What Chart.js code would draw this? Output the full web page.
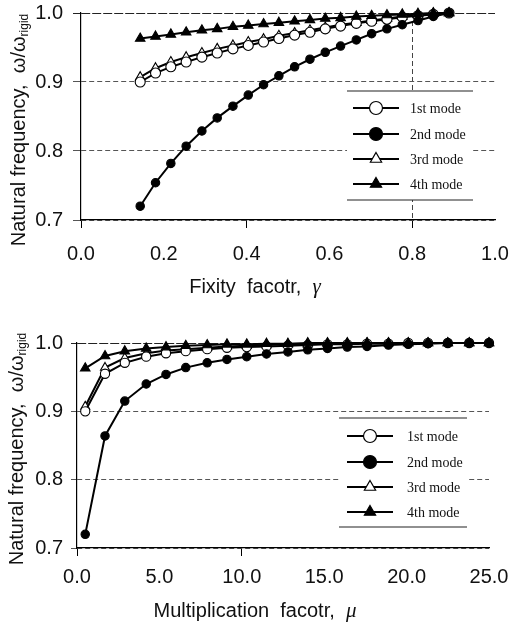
<!DOCTYPE html>
<html>
<head>
<meta charset="utf-8">
<script src="https://cdn.jsdelivr.net/npm/chart.js@4.4.1/dist/chart.umd.min.js"></script>
<style>
  html, body { margin: 0; padding: 0; background: #fff; }
  .box { position: absolute; left: 0; width: 510px; height: 315px; }
</style>
</head>
<body>
<div class="box" style="top:0"><canvas id="fixity" width="510" height="315"></canvas></div>
<div class="box" style="top:315px"><canvas id="multi" width="510" height="315"></canvas></div>
<script>
// ---- data ----
const modeLabels = ['1st mode', '2nd mode', '3rd mode', '4th mode'];

// top panel: fixity factor gamma
const gammaVals = [0.143, 0.180, 0.217, 0.254, 0.292, 0.329, 0.367, 0.404, 0.441, 0.478, 0.516,
                   0.553, 0.590, 0.627, 0.665, 0.702, 0.739, 0.776, 0.814, 0.851, 0.889];
const gMode1 = [0.900, 0.913, 0.922, 0.929, 0.936, 0.942, 0.948, 0.953, 0.958, 0.963, 0.968,
                0.972, 0.977, 0.981, 0.985, 0.988, 0.991, 0.994, 0.996, 0.998, 1.000];
const gMode2 = [0.720, 0.754, 0.782, 0.807, 0.829, 0.848, 0.865, 0.881, 0.896, 0.909, 0.922,
                0.933, 0.943, 0.952, 0.961, 0.970, 0.977, 0.983, 0.989, 0.995, 1.000];
const gMode3 = [0.907, 0.920, 0.929, 0.936, 0.942, 0.948, 0.953, 0.958, 0.962, 0.967, 0.971,
                0.975, 0.979, 0.983, 0.986, 0.989, 0.992, 0.995, 0.997, 0.999, 1.000];
const gMode4 = [0.963, 0.966, 0.969, 0.972, 0.975, 0.977, 0.980, 0.982, 0.984, 0.986, 0.988,
                0.990, 0.992, 0.993, 0.995, 0.996, 0.997, 0.998, 0.999, 1.000, 1.000];

// bottom panel: multiplication factor mu
const muVals = [0.5, 1.7, 2.9, 4.2, 5.4, 6.6, 7.9, 9.1, 10.3, 11.5, 12.8,
                14.0, 15.2, 16.4, 17.6, 18.9, 20.1, 21.3, 22.5, 23.8, 25.0];
const mMode1 = [0.900, 0.955, 0.971, 0.980, 0.985, 0.988, 0.991, 0.993, 0.994, 0.995, 0.996,
                0.997, 0.998, 0.998, 0.999, 0.999, 1.000, 1.000, 1.000, 1.000, 1.000];
const mMode2 = [0.720, 0.864, 0.915, 0.940, 0.954, 0.964, 0.971, 0.976, 0.980, 0.984, 0.987,
                0.990, 0.992, 0.994, 0.995, 0.997, 0.998, 0.999, 1.000, 1.000, 1.000];
const mMode3 = [0.907, 0.964, 0.978, 0.985, 0.989, 0.991, 0.993, 0.995, 0.996, 0.997, 0.998,
                0.998, 0.999, 0.999, 1.000, 1.000, 1.000, 1.000, 1.000, 1.000, 1.000];
const mMode4 = [0.963, 0.981, 0.988, 0.992, 0.994, 0.996, 0.997, 0.998, 0.998, 0.999, 0.999,
                1.000, 1.000, 1.000, 1.000, 1.000, 1.000, 1.000, 1.000, 1.000, 1.000];

const yTicks = [0.7, 0.8, 0.9, 1.0];

const sans = '"Liberation Sans", Arial, sans-serif';
const serif = '"Liberation Serif", "Times New Roman", serif';
const ink = '#111';
const none = 'rgba(0,0,0,0)';
const near = (a, list) => list.some(b => Math.abs(a - b) < 1e-6);

// marker look per mode
const markers = [
  { pointStyle: 'circle',   fill: '#fff' },
  { pointStyle: 'circle',   fill: '#000' },
  { pointStyle: 'triangle', fill: '#fff' },
  { pointStyle: 'triangle', fill: '#000' }
];

function makeSets(xs, series, radii) {
  return series.map((ys, i) => ({
    label: modeLabels[i],
    data: xs.map((x, j) => ({ x: x, y: ys[j] })),
    showLine: true,
    borderColor: '#000',
    borderWidth: 2,
    pointStyle: markers[i].pointStyle,
    pointBackgroundColor: markers[i].fill,
    pointBorderColor: '#000',
    pointBorderWidth: 1.1,
    pointRadius: radii[i],
    pointHoverRadius: radii[i],
    order: [2, 1, 3, 0][i],
    clip: false
  }));
}

function drawMarker(ctx, style, fill, r, x, y) {
  ctx.beginPath();
  if (style === 'circle') {
    ctx.arc(x, y, r, 0, Math.PI * 2);
  } else {
    let a = 0;
    ctx.moveTo(x + Math.sin(a) * r, y - Math.cos(a) * r);
    a += Math.PI * 2 / 3;
    ctx.lineTo(x + Math.sin(a) * r, y - Math.cos(a) * r);
    a += Math.PI * 2 / 3;
    ctx.lineTo(x + Math.sin(a) * r, y - Math.cos(a) * r);
    ctx.closePath();
  }
  ctx.fillStyle = fill;
  ctx.fill();
  ctx.lineWidth = 1.2;
  ctx.strokeStyle = '#000';
  ctx.stroke();
}

// legend drawn inside the plot, between two horizontal rules
const boxLegend = {
  id: 'boxLegend',
  afterDatasetsDraw(chart, args, o) {
    const ctx = chart.ctx;
    ctx.save();
    ctx.fillStyle = '#fff';
    ctx.fillRect(o.left, o.top, o.right - o.left, o.bottom - o.top);
    ctx.strokeStyle = '#222';
    ctx.lineWidth = 1.2;
    ctx.beginPath();
    ctx.moveTo(o.left, o.top); ctx.lineTo(o.right, o.top);
    ctx.moveTo(o.left, o.bottom); ctx.lineTo(o.right, o.bottom);
    ctx.stroke();
    chart.data.datasets.forEach((ds, i) => {
      const y = o.rows[i];
      ctx.strokeStyle = '#000';
      ctx.lineWidth = 2;
      ctx.beginPath();
      ctx.moveTo(o.lineX0, y); ctx.lineTo(o.lineX1, y);
      ctx.stroke();
      drawMarker(ctx, markers[i].pointStyle, markers[i].fill, o.markR, (o.lineX0 + o.lineX1) / 2, y);
      ctx.fillStyle = ink;
      ctx.font = o.fontSize + 'px ' + serif;
      ctx.textAlign = 'left';
      ctx.textBaseline = 'middle';
      ctx.fillText(ds.label, o.textX, y + 1);
    });
    ctx.restore();
  }
};

// axis titles with the subscript and italic symbol
const axisTitles = {
  id: 'axisTitles',
  afterDraw(chart, args, o) {
    const ctx = chart.ctx;
    ctx.save();
    ctx.fillStyle = ink;
    ctx.textBaseline = 'alphabetic';
    ctx.textAlign = 'left';
    // x title
    ctx.font = '20px ' + sans;
    const w1 = ctx.measureText(o.xText).width;
    ctx.font = 'italic 21px ' + serif;
    const w2 = ctx.measureText(o.xSym).width;
    let x0 = o.xCenter - (w1 + w2) / 2;
    ctx.font = '20px ' + sans;
    ctx.fillText(o.xText, x0, o.xBase);
    ctx.font = 'italic 21px ' + serif;
    ctx.fillText(o.xSym, x0 + w1, o.xBase);
    // y title, rotated
    ctx.translate(o.yBase, o.yCenter);
    ctx.rotate(-Math.PI / 2);
    ctx.font = '20px ' + sans;
    const m = 'Natural frequency,  \u03C9/\u03C9';
    const wm = ctx.measureText(m).width;
    ctx.font = '12px ' + sans;
    const ws = ctx.measureText('rigid').width;
    const s = -(wm + ws) / 2;
    ctx.font = '20px ' + sans;
    ctx.fillText(m, s, 0);
    ctx.font = '12px ' + sans;
    ctx.fillText('rigid', s + wm, 3);
    ctx.restore();
  }
};

function yScale(width, tl, pad) {
  return {
    type: 'linear',
    min: 0.7, max: 1.0,
    afterFit: s => { s.width = width; s.paddingTop = 0; s.paddingBottom = 0; },
    afterBuildTicks: s => { s.ticks = yTicks.map(v => ({ value: v })); },
    ticks: { color: ink, padding: pad, font: { family: sans, size: 20 },
             callback: v => Number(v).toFixed(1) },
    grid: {
      color: c => (c.tick && c.tick.value > 0.95) ? '#222' : '#555',
      tickColor: c => (c.tick && c.tick.value > 0.95) ? '#222' : '#555',
      lineWidth: 1,
      tickLength: tl
    },
    border: { display: true, color: '#000', width: 1.2,
              dash: c => c.tick ? (c.tick.value > 0.95 ? [9, 2] : [5, 3]) : [] }
  };
}

function xScale(opts) {
  return {
    type: 'linear',
    min: opts.min, max: opts.max,
    afterFit: s => { s.height = opts.height; s.paddingLeft = 0; s.paddingRight = 0; },
    ticks: { stepSize: opts.step, color: ink, padding: opts.pad, maxRotation: 0,
             font: { family: sans, size: 20 },
             callback: v => Number(v).toFixed(1) },
    grid: {
      color: c => (c.tick && near(c.tick.value, opts.gridAt)) ? '#444' : none,
      tickColor: c => (c.tick && near(c.tick.value, opts.tickAt)) ? '#000' : none,
      lineWidth: 1,
      tickLength: 8
    },
    border: { display: true, color: '#000', width: 1.2,
              dash: c => c.tick ? [5, 3] : [] }
  };
}

function makeChart(id, xs, series, radii, xs_opts, yopts, padding, legend, titles) {
  return new Chart(document.getElementById(id), {
    type: 'scatter',
    data: { datasets: makeSets(xs, series, radii) },
    options: {
      responsive: false,
      animation: false,
      layout: { padding: padding },
      scales: { x: xScale(xs_opts), y: yScale(yopts.width, yopts.tl, yopts.pad) },
      plugins: {
        legend: { display: false },
        tooltip: { enabled: false },
        boxLegend: legend,
        axisTitles: titles
      }
    },
    plugins: [boxLegend, axisTitles]
  });
}

makeChart('fixity', gammaVals, [gMode1, gMode2, gMode3, gMode4], [5, 4.2, 5.5, 5.5],
  { min: 0, max: 1, step: 0.2, height: 95, pad: 14, gridAt: [0.8], tickAt: [0, 0.4, 0.8] },
  { width: 81, tl: 8, pad: 10 },
  { left: 0, top: 13, right: 15, bottom: 0 },
  { left: 347, right: 473, top: 91, bottom: 200, rows: [108, 134, 159, 184],
    lineX0: 353, lineX1: 399, markR: 6.5, textX: 410, fontSize: 14 },
  { xText: 'Fixity  facotr,  ', xSym: '\u03B3', xCenter: 255, xBase: 293, yBase: 25, yCenter: 130 });

makeChart('multi', muVals, [mMode1, mMode2, mMode3, mMode4], [4.6, 4.2, 5.2, 5.5],
  { min: 0, max: 25, step: 5, height: 82, pad: 9, gridAt: [], tickAt: [0, 10] },
  { width: 77, tl: 6, pad: 8 },
  { left: 0, top: 28, right: 21, bottom: 0 },
  { left: 339, right: 467, top: 103, bottom: 212, rows: [121, 147, 172, 197],
    lineX0: 347, lineX1: 393, markR: 6.5, textX: 407, fontSize: 14 },
  { xText: 'Multiplication  facotr,  ', xSym: '\u03BC', xCenter: 255, xBase: 302, yBase: 23, yCenter: 134 });
</script>
</body>
</html>
